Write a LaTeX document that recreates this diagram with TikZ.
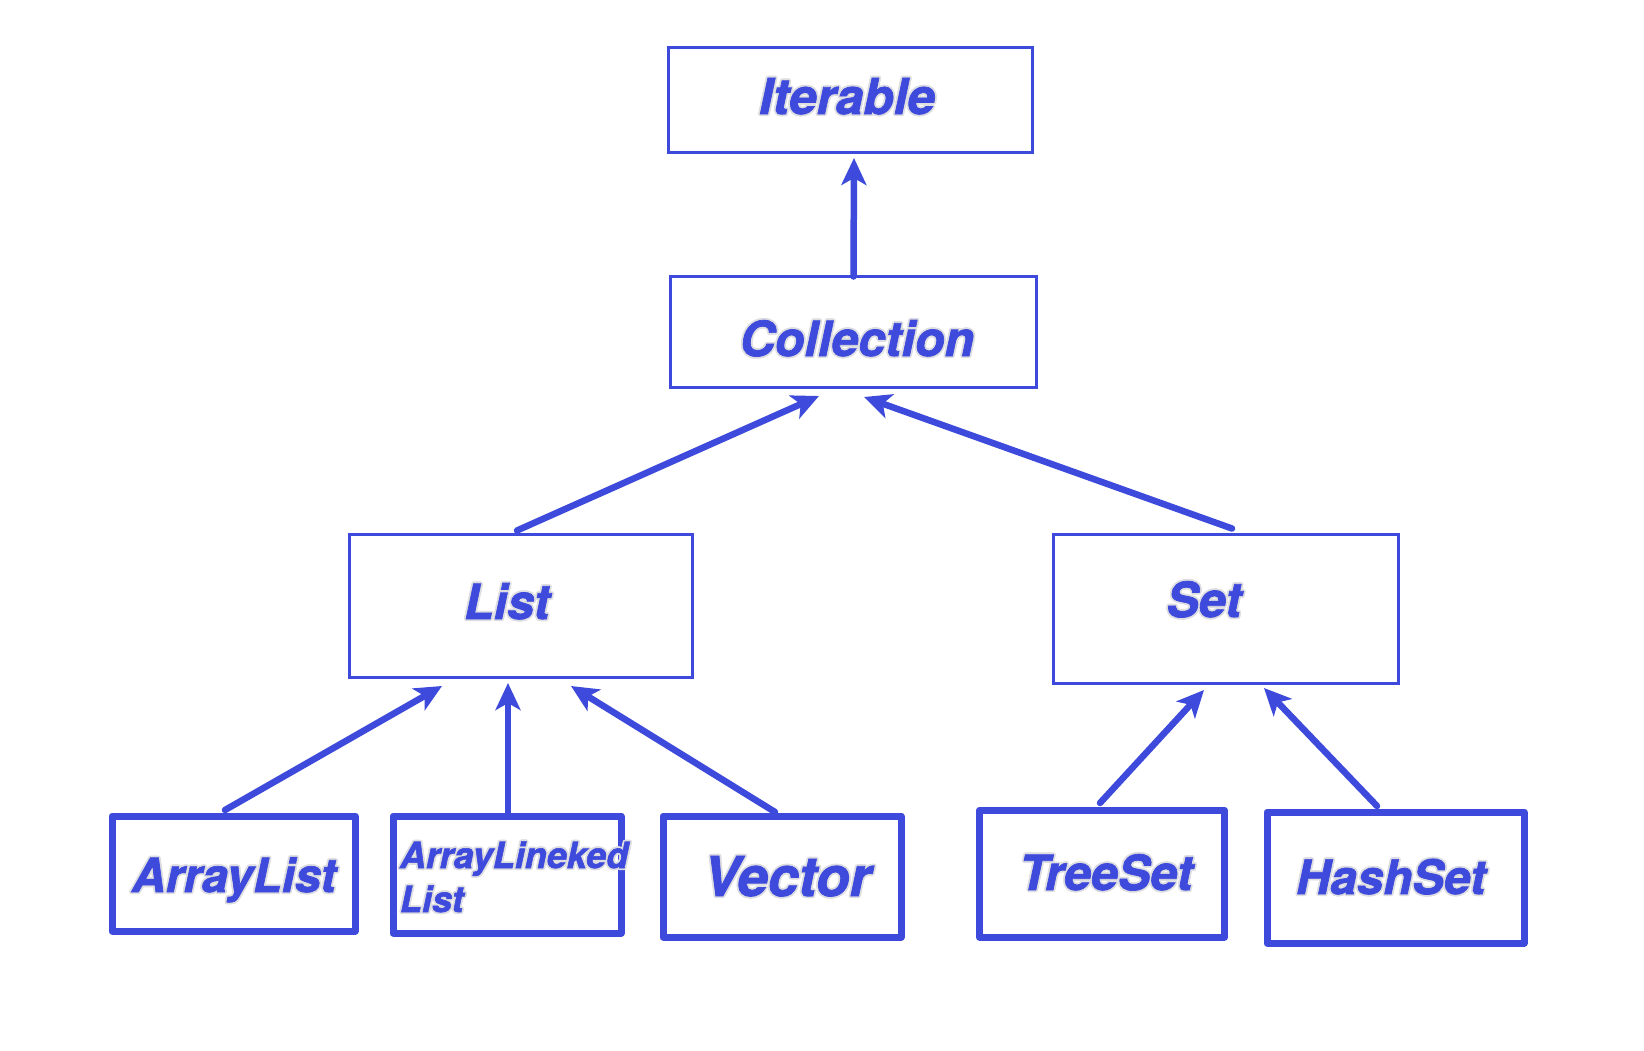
\documentclass[tikz,border=0pt]{standalone}
\usepackage{fontspec}
\setmainfont{TeX Gyre Heros}[BoldItalicFeatures={FakeBold=1.5}]
\usetikzlibrary{arrows.meta}
\definecolor{jblue}{RGB}{61,74,219}
\definecolor{halo}{RGB}{222,222,226}
\newcommand\hcp[3]{\rlap{\hspace*{#1}\raisebox{#2}{\textcolor{halo}{#3}}}}
\newcommand\halo[1]{\hcp{1.8pt}{0pt}{#1}\hcp{-1.8pt}{0pt}{#1}\hcp{0pt}{1.8pt}{#1}\hcp{0pt}{-1.8pt}{#1}\hcp{1.3pt}{1.3pt}{#1}\hcp{-1.3pt}{1.3pt}{#1}\hcp{1.3pt}{-1.3pt}{#1}\hcp{-1.3pt}{-1.3pt}{#1}#1}
\newcommand\fs[1]{\fontsize{#1}{#1}\selectfont}
\begin{document}
\begin{tikzpicture}[x=1pt,y=-1pt,
  thinbox/.style={draw=jblue, line width=3pt, inner sep=0pt, outer sep=0pt, shape=rectangle},
  thickbox/.style={draw=jblue, line width=7pt, line join=round, inner sep=0pt, outer sep=0pt, shape=rectangle},
  arr/.style={draw=jblue, line width=6.5pt, line cap=round, -{Stealth[length=27pt,width=25pt,inset=7pt]}},
  lbl/.style={text=jblue, inner sep=0pt, outer sep=0pt, anchor=base, font=\bfseries\itshape}]
\path[use as bounding box, fill=white] (0,0) rectangle (1644,1050);

% boxes
\node[thinbox, minimum width=364pt, minimum height=105pt] (iter) at (850.5,100) {};
\node[thinbox, minimum width=366pt, minimum height=111pt] (coll) at (853.5,332) {};
\node[thinbox, minimum width=343.5pt, minimum height=143pt] (list) at (521,606) {};
\node[thinbox, minimum width=345pt, minimum height=149pt] (set) at (1226,609) {};
\node[thickbox, minimum width=243pt, minimum height=115pt] (al) at (233.5,873.5) {};
\node[thickbox, minimum width=228pt, minimum height=117pt] (all) at (507,874.5) {};
\node[thickbox, minimum width=238pt, minimum height=121pt] (vec) at (782,876.5) {};
\node[thickbox, minimum width=245pt, minimum height=127pt] (ts) at (1102,873.5) {};
\node[thickbox, minimum width=257pt, minimum height=131pt] (hs) at (1395.5,877.5) {};

% labels
\node[lbl, font=\bfseries\itshape\fs{49.5}] (titer) at (847,114) {\halo{Iterable}};
\node[lbl, font=\bfseries\itshape\fs{48.5}] (tcoll) at (857,356) {\halo{Collection}};
\node[lbl, font=\bfseries\itshape\fs{48.5}] (tlist) at (507,619) {\halo{List}};
\node[lbl, font=\bfseries\itshape\fs{48.5}] (tset) at (1204,617) {\halo{Set}};
\node[lbl, font=\bfseries\itshape\fs{47}] (tal) at (234,892) {\halo{ArrayList}};
\node[lbl, anchor=base west, font=\bfseries\itshape\fs{36}] (tall1) at (400,868) {\halo{ArrayLineked}};
\node[lbl, anchor=base west, font=\bfseries\itshape\fs{36}] (tall2) at (400,912) {\halo{List}};
\node[lbl, font=\bfseries\itshape\fs{55}] (tvec) at (787,896) {\halo{Vector}};
\node[lbl, font=\bfseries\itshape\fs{48.5}] (tts) at (1106,890) {\halo{TreeSet}};
\node[lbl, font=\bfseries\itshape\fs{47.5}] (ths) at (1391,894) {\halo{HashSet}};

% connectors
\draw[arr] (coll.north) -- ([xshift=3.5pt,yshift=-5.5pt]iter.south);
\draw[arr] ([xshift=-4pt,yshift=4pt]list.north) -- ([xshift=-34.5pt,yshift=-8.5pt]coll.south);
\draw[arr] ([xshift=6pt,yshift=6pt]set.north) -- ([xshift=10.5pt,yshift=-9.5pt]coll.south);
\draw[arr] ([xshift=-8.5pt,yshift=6pt]al.north) -- ([xshift=-79pt,yshift=-8.5pt]list.south);
\draw[arr] ([xshift=1pt,yshift=3pt]all.north) -- ([xshift=-13pt,yshift=-5.5pt]list.south);
\draw[arr] ([xshift=-7pt,yshift=4pt]vec.north) -- ([xshift=50pt,yshift=-8.5pt]list.south);
\draw[arr] ([xshift=-2pt,yshift=7pt]ts.north) -- ([xshift=-22pt,yshift=-6.5pt]set.south);
\draw[arr] ([xshift=-18.5pt,yshift=6pt]hs.north) -- ([xshift=38pt,yshift=-4.5pt]set.south);
\end{tikzpicture}
\end{document}
